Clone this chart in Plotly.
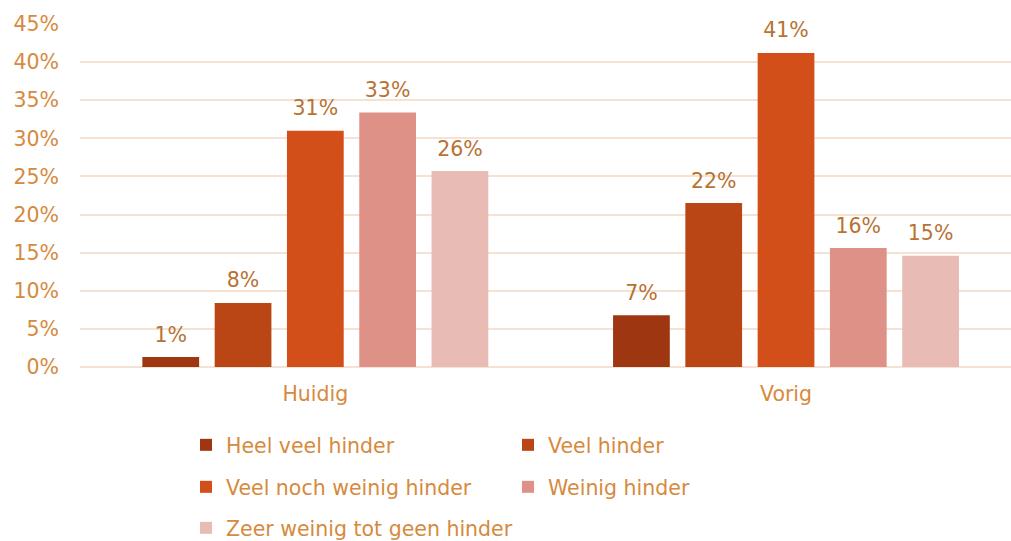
import plotly.graph_objects as go

periods = ["Huidig", "Vorig"]
series_names = [
    "Heel veel hinder",
    "Veel hinder",
    "Veel noch weinig hinder",
    "Weinig hinder",
    "Zeer weinig tot geen hinder",
]
heel_veel = [0.013, 0.068]
veel = [0.084, 0.215]
veel_noch_weinig = [0.310, 0.412]
weinig = [0.334, 0.156]
zeer_weinig = [0.257, 0.146]
y_ticks = [0, 0.05, 0.10, 0.15, 0.20, 0.25, 0.30, 0.35, 0.40, 0.45]

series_values = [heel_veel, veel, veel_noch_weinig, weinig, zeer_weinig]
colors = ["#9E3711", "#B94614", "#D34F19", "#DE9287", "#E8BCB5"]

FONT = "DejaVu Sans"
TICK_COLOR = "#D68A3E"
LABEL_COLOR = "#B87232"
GRID_COLOR = "#F6E2D2"
FS = 20.5

# legend placement (container coords, px): left x, top y of each entry
legend_pos = [(186, 425), (508, 425), (186, 467), (508, 467), (186, 508)]
W, H = 1011, 541

fig = go.Figure()
for i, (name, vals, col) in enumerate(zip(series_names, series_values, colors)):
    lg = "legend" if i == 0 else f"legend{i + 1}"
    fig.add_trace(go.Bar(
        x=periods, y=vals, name=name,
        marker=dict(color=col, line=dict(width=0)),
        offsetgroup=str(i), legend=lg,
    ))
    # value labels, grouped like the bars and lifted by an invisible marker
    fig.add_trace(go.Scatter(
        x=periods, y=vals, mode="markers+text",
        marker=dict(size=15, opacity=0),
        text=vals, texttemplate="%{y:.0%}", textposition="top center",
        textfont=dict(family=FONT, size=FS, color=LABEL_COLOR),
        offsetgroup=str(i), showlegend=False, hoverinfo="skip",
        cliponaxis=False,
    ))

layout_legends = {}
for i, (lx, ly) in enumerate(legend_pos):
    key = "legend" if i == 0 else f"legend{i + 1}"
    layout_legends[key] = dict(
        xref="container", yref="container",
        x=lx / W, y=1 - ly / H, xanchor="left", yanchor="top",
        orientation="h", itemwidth=30,
        font=dict(family=FONT, size=FS, color=TICK_COLOR),
        bgcolor="rgba(0,0,0,0)", borderwidth=0,
    )

fig.update_layout(
    width=W, height=H,
    margin=dict(l=80, r=0, t=24, b=174),
    paper_bgcolor="white", plot_bgcolor="white",
    barmode="group", bargap=0.232, bargroupgap=0.215,
    scattermode="group", scattergap=0.232,
    showlegend=True,
    **layout_legends,
)
fig.update_xaxes(
    range=[-0.5, 1.478],
    showgrid=False, showline=False, zeroline=False,
    ticks="", ticklabelstandoff=12,
    tickfont=dict(family=FONT, size=FS, color=TICK_COLOR),
)
fig.update_yaxes(
    range=[0, 0.45], tickvals=y_ticks, tickformat=".0%",
    showgrid=True, gridcolor=GRID_COLOR, gridwidth=2,
    zeroline=True, zerolinecolor=GRID_COLOR, zerolinewidth=2,
    ticks="", ticklabelstandoff=20,
    tickfont=dict(family=FONT, size=FS, color=TICK_COLOR),
)

fig.write_html("out.html")
